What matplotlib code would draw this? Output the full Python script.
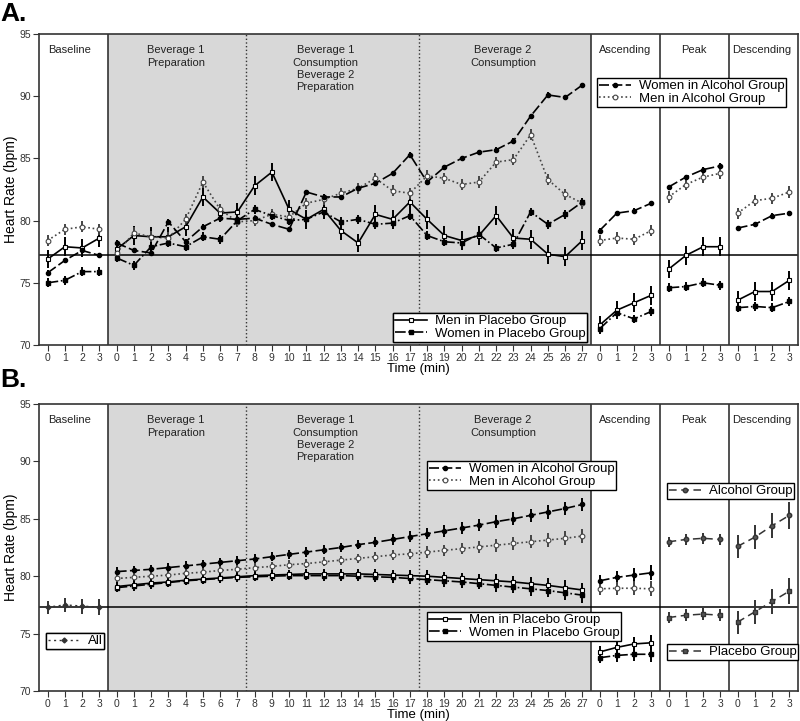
import matplotlib.pyplot as plt
from matplotlib.lines import Line2D
from matplotlib.transforms import blended_transform_factory

plt.rcParams['font.family'] = ['Liberation Sans', 'DejaVu Sans']

# ---- layout of the time axis (minutes within each phase) ----
base_t = [0, 1, 2, 3]
main_t = list(range(28))
limb_t = [0, 1, 2, 3]
tick_labels = [str(t) for t in base_t + main_t + limb_t + limb_t + limb_t]

section_names = ['Baseline', 'Beverage 1\nPreparation',
                 'Beverage 1\nConsumption\nBeverage 2\nPreparation',
                 'Beverage 2\nConsumption', 'Ascending', 'Peak', 'Descending']
section_centers = [1.3, 7.45, 16.1, 26.4, 33.5, 37.45, 41.4]

# ---- panel A: observed means ----
men_plc_base = [76.9, 77.9, 77.8, 78.6]
men_plc_main = [77.7, 78.8, 78.7, 78.7, 79.5, 81.9, 80.6, 80.7, 82.8, 83.9,
                80.9, 80.1, 80.9, 79.2, 78.2, 80.5, 80.1, 81.5, 80.1, 78.8,
                78.4, 78.8, 80.4, 78.6, 78.5, 77.3, 77.1, 78.4]
men_plc_asc = [71.6, 72.8, 73.4, 74.0]
men_plc_peak = [76.1, 77.2, 77.9, 77.9]
men_plc_desc = [73.6, 74.3, 74.3, 75.2]

men_alc_base = [78.4, 79.3, 79.5, 79.3]
men_alc_main = [77.4, 79.0, 78.7, 78.6, 80.1, 83.1, 80.9, 79.9, 80.0, 80.5,
                80.3, 81.4, 81.7, 82.2, 82.6, 83.4, 82.4, 82.2, 83.6, 83.4,
                82.9, 83.1, 84.7, 84.9, 86.9, 83.3, 82.1, 81.4]
men_alc_asc = [78.4, 78.6, 78.5, 79.2]
men_alc_peak = [81.9, 82.9, 83.5, 83.8]
men_alc_desc = [80.6, 81.6, 81.8, 82.3]

women_alc_base = [75.8, 76.8, 77.6, 77.2]
women_alc_main = [78.2, 77.6, 77.4, 79.9, 78.3, 79.5, 80.2, 80.1, 80.2, 79.7,
                  79.3, 82.3, 81.9, 81.9, 82.6, 83.0, 83.8, 85.3, 83.1, 84.3,
                  85.0, 85.5, 85.7, 86.4, 88.4, 90.1, 89.9, 90.9]
women_alc_asc = [79.2, 80.6, 80.8, 81.4]
women_alc_peak = [82.7, 83.5, 84.1, 84.4]
women_alc_desc = [79.4, 79.7, 80.4, 80.6]

women_plc_base = [75.0, 75.2, 75.9, 75.9]
women_plc_main = [77.0, 76.4, 77.9, 78.2, 77.9, 78.7, 78.5, 80.0, 80.9, 80.4,
                  80.0, 80.1, 80.7, 79.9, 80.1, 79.7, 79.8, 80.4, 78.8, 78.3,
                  78.2, 78.9, 77.8, 78.1, 80.7, 79.7, 80.5, 81.5]
women_plc_asc = [71.3, 72.6, 72.1, 72.7]
women_plc_peak = [74.6, 74.7, 75.0, 74.8]
women_plc_desc = [73.0, 73.1, 73.0, 73.5]

# standard errors (approximate, per series)
men_plc_err = 0.75
men_alc_err = 0.45
women_alc_err = 0.2
women_plc_err = 0.35
ref_line_a = 77.2

# ---- panel B: model estimates ----
all_base = [77.3, 77.5, 77.4, 77.3]
all_err = [0.55, 0.6, 0.65, 0.7]

b_women_alc_main = [80.4, 80.5, 80.6, 80.75, 80.9, 81.05, 81.2, 81.35, 81.5, 81.7,
                    81.9, 82.1, 82.3, 82.5, 82.75, 82.95, 83.2, 83.45, 83.7, 83.95,
                    84.2, 84.45, 84.75, 85.0, 85.3, 85.6, 85.9, 86.25]
b_men_alc_main = [79.8, 79.9, 80.0, 80.1, 80.25, 80.35, 80.5, 80.6, 80.75, 80.85,
                  81.0, 81.1, 81.25, 81.4, 81.55, 81.7, 81.85, 81.95, 82.1, 82.25,
                  82.4, 82.55, 82.7, 82.85, 83.0, 83.15, 83.3, 83.5]
b_men_plc_main = [79.1, 79.25, 79.4, 79.5, 79.65, 79.75, 79.85, 79.95, 80.05, 80.1,
                  80.15, 80.2, 80.2, 80.2, 80.2, 80.15, 80.1, 80.05, 80.0, 79.9,
                  79.8, 79.7, 79.6, 79.5, 79.35, 79.2, 79.0, 78.8]
b_women_plc_main = [79.0, 79.15, 79.3, 79.45, 79.6, 79.7, 79.8, 79.9, 79.95, 80.0,
                    80.05, 80.05, 80.05, 80.05, 80.0, 79.95, 79.9, 79.8, 79.7, 79.6,
                    79.5, 79.35, 79.2, 79.05, 78.9, 78.75, 78.55, 78.35]
b_alc_err = [0.4, 0.4, 0.4, 0.4, 0.4, 0.4, 0.4, 0.4, 0.4, 0.4, 0.4, 0.4, 0.4, 0.4,
             0.4, 0.45, 0.45, 0.45, 0.5, 0.5, 0.5, 0.5, 0.55, 0.55, 0.55, 0.6, 0.6, 0.6]
b_plc_err = [0.4, 0.4, 0.4, 0.4, 0.4, 0.4, 0.4, 0.4, 0.4, 0.4, 0.4, 0.4, 0.45, 0.45,
             0.45, 0.45, 0.45, 0.45, 0.5, 0.5, 0.5, 0.5, 0.55, 0.55, 0.6, 0.6, 0.65, 0.65]

b_women_alc_asc = [79.6, 79.9, 80.1, 80.3]
b_men_alc_asc = [78.9, 78.95, 78.95, 78.9]
b_men_plc_asc = [73.4, 73.8, 74.1, 74.2]
b_women_plc_asc = [72.9, 73.1, 73.2, 73.2]
b_asc_err = [0.5, 0.55, 0.6, 0.65]

alc_peak = [83.0, 83.2, 83.3, 83.2]
plc_peak = [76.4, 76.6, 76.7, 76.6]
peak_err = [0.45, 0.5, 0.5, 0.5]
alc_desc = [82.6, 83.4, 84.4, 85.3]
plc_desc = [76.0, 76.9, 77.8, 78.7]
desc_err = [1.0, 1.05, 1.1, 1.15]
ref_line_b = 77.35

# ---- styles ----
men_plc_style = dict(color='black', ls='-', lw=1.2, marker='s', ms=3.4,
                     mfc='white', mec='black', mew=0.8)
men_alc_style = dict(color='#444444', ls=':', lw=1.2, marker='o', ms=3.4,
                     mfc='white', mec='#444444', mew=0.8)
women_alc_style = dict(color='black', ls=(0, (6, 2)), lw=1.2, marker='o', ms=3.0,
                       mfc='black', mec='black')
women_plc_style = dict(color='black', ls='-.', lw=1.2, marker='s', ms=3.4,
                       mfc='black', mec='black')
all_style = dict(color='#333333', ls=(0, (1.5, 2.5)), lw=1.0, marker='D', ms=2.5,
                 mfc='#333333', mec='#333333')
grp_alc_style = dict(color='#333333', ls=(0, (5, 3)), lw=1.1, marker='o', ms=3.2,
                     mfc='#555555', mec='#333333')
grp_plc_style = dict(color='#333333', ls=(0, (5, 3)), lw=1.1, marker='s', ms=3.4,
                     mfc='#555555', mec='#333333')

W, H = 800, 721
fig = plt.figure(figsize=(W / 100, H / 100), dpi=100)


def px_box(left, top, right, bottom):
    return [left / W, 1 - bottom / H, (right - left) / W, (bottom - top) / H]


def draw(ax, x0, xs, ys, err, style):
    pos = [x0 + t for t in xs]
    ax.errorbar(pos, ys, yerr=err, capsize=0, elinewidth=1.4,
                ecolor=style['color'], zorder=3, **style)


def handle(style):
    return Line2D([], [], **style)


def setup(ax, ref):
    ax.set_xlim(-0.5, 43.5)
    ax.set_ylim(70, 95)
    ax.axvspan(3.5, 31.5, color='#d8d8d8', zorder=0, lw=0)
    for xv in [3.5, 31.5, 35.5, 39.5]:
        ax.axvline(xv, color='#333333', lw=1.2, zorder=2)
    for xv in [11.5, 21.5]:
        ax.axvline(xv, color='#333333', lw=1.0, ls=':', zorder=2)
    ax.axhline(ref, color='black', lw=1.1, zorder=2)
    ax.set_xticks(range(44))
    ax.set_xticklabels(tick_labels)
    ax.set_yticks([70, 75, 80, 85, 90, 95])
    ax.tick_params(labelsize=7.5, labelcolor='#333333', length=4, pad=1.5,
                   color='#333333')
    for s in ax.spines.values():
        s.set_color('#333333')
        s.set_linewidth(1.2)
    ax.set_xlabel('Time (min)', fontsize=9.5, labelpad=0)
    ax.set_ylabel('Heart Rate (bpm)', fontsize=10, labelpad=1)
    tr = blended_transform_factory(ax.transData, ax.transAxes)
    for name, xc in zip(section_names, section_centers):
        ax.annotate(name, xy=(xc, 1), xycoords=tr, xytext=(0, -8),
                    textcoords='offset points', ha='center', va='top',
                    fontsize=8, linespacing=1.3, color='#222222')


def legend(ax, handles, labels, left, top):
    lg = ax.legend(handles, labels, loc='upper left',
                   bbox_to_anchor=(left / W, 1 - top / H),
                   bbox_transform=fig.transFigure, fontsize=9.5,
                   frameon=True, fancybox=False, framealpha=1,
                   edgecolor='black', borderpad=0.15, labelspacing=0.05,
                   handlelength=2.4, handletextpad=0.6, borderaxespad=0)
    lg.get_frame().set_linewidth(1.0)
    ax.add_artist(lg)
    return lg


# ---- panel A ----
axA = fig.add_axes(px_box(39, 34, 798, 345))
setup(axA, ref_line_a)
series_a = [
    (men_plc_base, men_plc_main, men_plc_asc, men_plc_peak, men_plc_desc, men_plc_err, men_plc_style),
    (men_alc_base, men_alc_main, men_alc_asc, men_alc_peak, men_alc_desc, men_alc_err, men_alc_style),
    (women_alc_base, women_alc_main, women_alc_asc, women_alc_peak, women_alc_desc, women_alc_err, women_alc_style),
    (women_plc_base, women_plc_main, women_plc_asc, women_plc_peak, women_plc_desc, women_plc_err, women_plc_style),
]
for base, main, asc, peak, desc, err, st in series_a:
    draw(axA, 0, base_t, base, err, st)
    draw(axA, 4, main_t, main, err, st)
    draw(axA, 32, limb_t, asc, err, st)
    draw(axA, 36, limb_t, peak, err, st)
    draw(axA, 40, limb_t, desc, err, st)

legend(axA, [handle(women_alc_style), handle(men_alc_style)],
       ['Women in Alcohol Group', 'Men in Alcohol Group'], 597, 78)
legend(axA, [handle(men_plc_style), handle(women_plc_style)],
       ['Men in Placebo Group', 'Women in Placebo Group'], 393, 313)

# ---- panel B ----
axB = fig.add_axes(px_box(39, 404, 798, 691))
setup(axB, ref_line_b)
draw(axB, 0, base_t, all_base, all_err, all_style)
draw(axB, 4, main_t, b_women_alc_main, b_alc_err, women_alc_style)
draw(axB, 4, main_t, b_men_alc_main, b_alc_err, men_alc_style)
draw(axB, 4, main_t, b_women_plc_main, b_plc_err, women_plc_style)
draw(axB, 4, main_t, b_men_plc_main, b_plc_err, men_plc_style)
draw(axB, 32, limb_t, b_women_alc_asc, b_asc_err, women_alc_style)
draw(axB, 32, limb_t, b_men_alc_asc, b_asc_err, men_alc_style)
draw(axB, 32, limb_t, b_women_plc_asc, b_asc_err, women_plc_style)
draw(axB, 32, limb_t, b_men_plc_asc, b_asc_err, men_plc_style)
draw(axB, 36, limb_t, alc_peak, peak_err, grp_alc_style)
draw(axB, 36, limb_t, plc_peak, peak_err, grp_plc_style)
draw(axB, 40, limb_t, alc_desc, desc_err, grp_alc_style)
draw(axB, 40, limb_t, plc_desc, desc_err, grp_plc_style)

legend(axB, [handle(women_alc_style), handle(men_alc_style)],
       ['Women in Alcohol Group', 'Men in Alcohol Group'], 427, 461)
legend(axB, [handle(men_plc_style), handle(women_plc_style)],
       ['Men in Placebo Group', 'Women in Placebo Group'], 427, 612)
legend(axB, [handle(grp_alc_style)], ['Alcohol Group'], 667, 483)
legend(axB, [handle(grp_plc_style)], ['Placebo Group'], 667, 644)
legend(axB, [handle(all_style)], ['All'], 46, 633)

fig.text(0.0, 1 - 2 / H, 'A.', fontsize=19, fontweight='bold', va='top', ha='left')
fig.text(0.0, 1 - 368 / H, 'B.', fontsize=19, fontweight='bold', va='top', ha='left')

fig.savefig('out.png', dpi=100)
